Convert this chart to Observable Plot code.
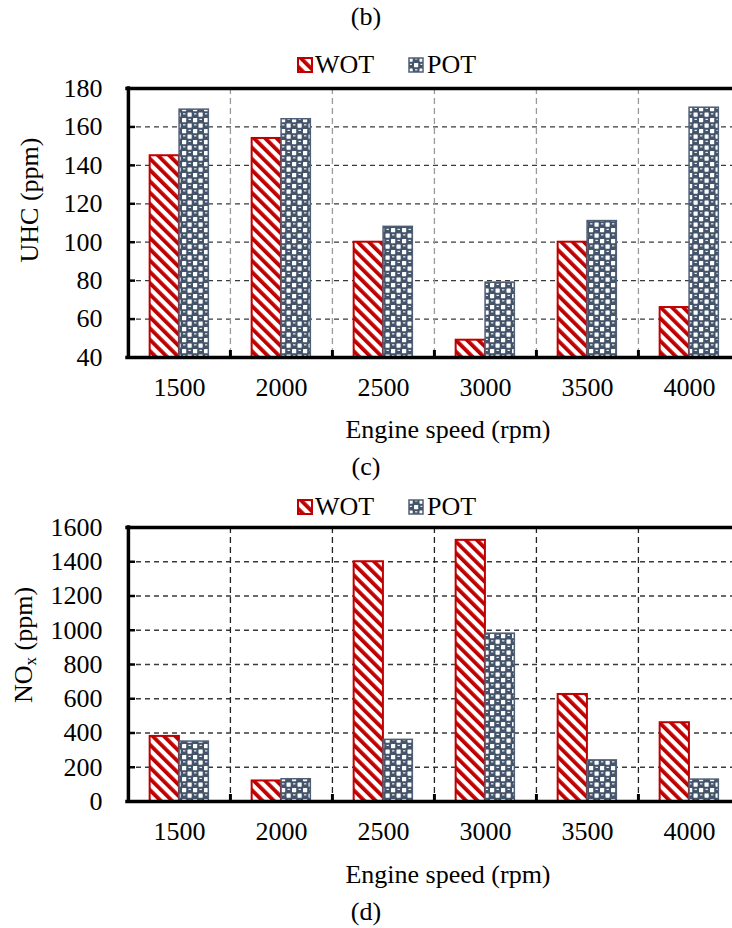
<!DOCTYPE html>
<html><head><meta charset="utf-8">
<script src="https://cdn.jsdelivr.net/npm/d3@7"></script>
<script src="https://cdn.jsdelivr.net/npm/@observablehq/plot@0.6"></script>
<style>
html,body{margin:0;padding:0;}
body{width:732px;height:928px;overflow:hidden;position:relative;background:#fff;font-family:"Liberation Serif","DejaVu Serif",serif;color:#000;}
.abs{position:absolute;}
.cap{left:0;width:732px;text-align:center;font-size:26px;line-height:26px;}
.xlab{font-size:26px;line-height:26px;white-space:nowrap;transform:translate(-50%,0);}
.ylab{font-size:26px;line-height:26px;white-space:nowrap;transform:translate(-50%,-50%) rotate(-90deg);}
.leg{font-size:26px;line-height:26px;white-space:nowrap;}
.sw{width:16px;height:16px;}
.chart{left:0;}
</style>
</head><body>
<svg width="0" height="0" style="position:absolute;left:0;top:0">
<defs>
<pattern id="wot" patternUnits="userSpaceOnUse" width="8" height="8" patternTransform="rotate(-45)">
  <rect width="8" height="8" fill="#fff"/>
  <rect width="3.8" height="8" fill="#c00000"/>
</pattern>
<pattern id="pot" patternUnits="userSpaceOnUse" width="11" height="11">
  <rect width="11" height="11" fill="#44546a"/>
  <rect x="0.5" y="0.5" width="4.2" height="4.2" rx="0.6" fill="#fff"/>
  <rect x="6" y="6" width="4.2" height="4.2" rx="0.6" fill="#fff"/>
  <rect x="7" y="1.3" width="2.4" height="1.1" fill="#fff"/>
  <rect x="1.5" y="6.8" width="2.4" height="1.1" fill="#fff"/>
</pattern>
</defs></svg>

<div class="abs cap" style="top:4px">(b)</div>
<div class="abs" style="left:297px;top:57px"><svg class="sw"><rect x="1" y="1" width="14" height="14" fill="url(#wot)" stroke="#c00000" stroke-width="2"/></svg></div>
<div class="abs leg" style="left:315px;top:52px">WOT</div>
<div class="abs" style="left:408px;top:57px"><svg class="sw"><rect x="1" y="1" width="14" height="14" fill="url(#pot)" stroke="#4f5f76" stroke-width="1.5"/></svg></div>
<div class="abs leg" style="left:427px;top:52px">POT</div>
<div id="c1" class="abs chart" style="top:68px"></div>
<div class="abs ylab" style="left:30px;top:200px">UHC (ppm)</div>
<div class="abs xlab" style="left:448px;top:417px">Engine speed (rpm)</div>

<div class="abs cap" style="top:454px">(c)</div>
<div class="abs" style="left:297px;top:499px"><svg class="sw"><rect x="1" y="1" width="14" height="14" fill="url(#wot)" stroke="#c00000" stroke-width="2"/></svg></div>
<div class="abs leg" style="left:315px;top:494px">WOT</div>
<div class="abs" style="left:408px;top:499px"><svg class="sw"><rect x="1" y="1" width="14" height="14" fill="url(#pot)" stroke="#4f5f76" stroke-width="1.5"/></svg></div>
<div class="abs leg" style="left:427px;top:494px">POT</div>
<div id="c2" class="abs chart" style="top:507px"></div>
<div class="abs ylab" style="left:27px;top:645px">NO<sub style="font-size:17px;vertical-align:-4px">x</sub> (ppm)</div>
<div class="abs xlab" style="left:448px;top:862px">Engine speed (rpm)</div>

<div class="abs cap" style="top:899px">(d)</div>

<script>
// ---- data ----
const speeds = ["1500", "2000", "2500", "3000", "3500", "4000"];
const uhcWOT = [145, 154, 100, 49, 100, 66];
const uhcPOT = [169, 164, 108, 79, 111, 170];
const noxWOT = [380, 120, 1400, 1525, 625, 460];
const noxPOT = [350, 130, 360, 980, 240, 128];
const uhcTicks = [40, 60, 80, 100, 120, 140, 160, 180];
const noxTicks = [0, 200, 400, 600, 800, 1000, 1200, 1400, 1600];

function chart({wot, pot, ticks, height, marginTop, marginBottom, vStroke}) {
  const width = 740, marginLeft = 127, marginRight = 0;
  const step = (width - marginLeft - marginRight) / speeds.length;
  const barW = 0.288 * step;
  const off = (step - 2 * barW) / 2;
  const rows = speeds.map((s, i) => ({speed: s, wot: wot[i], pot: pot[i]}));
  const yMin = ticks[0], yMax = ticks[ticks.length - 1];
  const plotH = height - marginTop - marginBottom;
  return Plot.plot({
    width, height, marginLeft, marginRight, marginTop, marginBottom,
    style: {fontFamily: "'Liberation Serif','DejaVu Serif',serif", fontSize: "26px", color: "#000", background: "transparent", maxWidth: "none", overflow: "visible"},
    x: {domain: speeds, padding: 0},
    y: {domain: [yMin, yMax]},
    marks: [
      Plot.ruleY(ticks.slice(1, -1), {stroke: "#3a3a3a", strokeWidth: 1.3, strokeDasharray: "5,4"}),
      Plot.ruleX(speeds.slice(1), {x: d => d, dx: -step / 2, stroke: vStroke, strokeWidth: 1.3, strokeDasharray: "6,4"}),
      Plot.barY(rows, {x: "speed", y1: () => yMin, y2: "wot", insetLeft: off, insetRight: step - off - barW,
        fill: "url(#wot)", stroke: "#c00000", strokeWidth: 2}),
      Plot.barY(rows, {x: "speed", y1: () => yMin, y2: "pot", insetLeft: off + barW, insetRight: off,
        fill: "url(#pot)", stroke: "#4f5f76", strokeWidth: 1.5}),
      Plot.ruleX(speeds.slice(1), {x: d => d, dx: -step / 2, y1: () => yMax, y2: () => yMin, insetTop: plotH - 7, stroke: "#000", strokeWidth: 3}),
      Plot.ruleY([yMin], {stroke: "#000", strokeWidth: 3.5, strokeLinecap: "square"}),
      Plot.ruleY([yMax], {stroke: "#000", strokeWidth: 3.5, strokeLinecap: "square"}),
      Plot.ruleX([speeds[0]], {x: d => d, dx: -step / 2, stroke: "#000", strokeWidth: 3.5, strokeLinecap: "square"}),
      Plot.axisY(ticks, {tickSize: -8, tickPadding: 33, strokeWidth: 2.5, label: null, tickFormat: d => String(d)}),
      Plot.axisX({tickSize: 0, tickPadding: 20, label: null})
    ]
  });
}

document.getElementById("c1").append(chart({wot: uhcWOT, pot: uhcPOT, ticks: uhcTicks, height: 382, marginTop: 20, marginBottom: 93, vStroke: "#9a9a9a"}));
document.getElementById("c2").append(chart({wot: noxWOT, pot: noxPOT, ticks: noxTicks, height: 391, marginTop: 20, marginBottom: 97, vStroke: "#222"}));
</script>
</body></html>
